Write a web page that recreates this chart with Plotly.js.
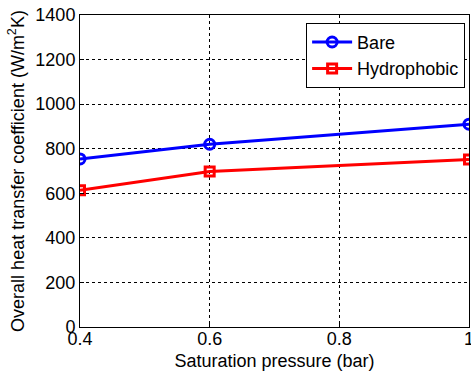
<!DOCTYPE html>
<html><head><meta charset="utf-8">
<script src="https://cdn.plot.ly/plotly-3.0.1.min.js"></script>
<style>html,body{margin:0;padding:0;background:#fff}#c{width:471px;height:374px}</style>
</head><body><div id="c"></div>
<script>
const pressure = [0.4, 0.6, 1.0];
const bare = [754, 820, 910];
const hydrophobic = [614, 698, 752];
const xTicks = [0.4, 0.6, 0.8, 1];
const xTickText = ['0.4', '0.6', '0.8', '1'];
const yTicks = [0, 200, 400, 600, 800, 1000, 1200, 1400];

const font = {family: 'Liberation Sans, Arial, sans-serif', size: 18, color: '#000'};
const traces = [
  {x: pressure, y: bare, name: 'Bare', mode: 'lines+markers',
   line: {color: '#0000ff', width: 3},
   marker: {symbol: 'circle-open', size: 10, color: '#0000ff', line: {width: 3}}},
  {x: pressure, y: hydrophobic, name: 'Hydrophobic', mode: 'lines+markers',
   line: {color: '#ff0000', width: 3},
   marker: {symbol: 'square-open', size: 9, color: '#ff0000', line: {width: 3}}}
];
const layout = {
  width: 471, height: 374,
  margin: {l: 80, r: 2, t: 15, b: 47},
  paper_bgcolor: '#fff', plot_bgcolor: '#fff',
  font: font,
  showlegend: true,
  legend: {x: 0.99, y: 0.975, xanchor: 'right', yanchor: 'top',
    bordercolor: '#000', borderwidth: 1, bgcolor: '#fff', font: font,
    tracegroupgap: 0, itemwidth: 40},
  xaxis: {range: [0.4, 1], tickvals: xTicks, ticktext: xTickText,
    showline: true, linecolor: '#000', linewidth: 1, mirror: true,
    showgrid: true, gridcolor: '#000', griddash: 'dot', gridwidth: 1,
    ticks: 'inside', ticklen: 4, tickcolor: '#000', zeroline: false,
    tickfont: font, ticklabeloverflow: 'allow', ticklabelstandoff: -5,
    title: {text: 'Saturation pressure (bar)', font: font, standoff: 6}},
  yaxis: {range: [0, 1400], tickvals: yTicks,
    showline: true, linecolor: '#000', linewidth: 1, mirror: true,
    showgrid: true, gridcolor: '#000', griddash: 'dot', gridwidth: 1,
    ticks: 'inside', ticklen: 4, tickcolor: '#000', zeroline: false,
    tickfont: font,
    title: {text: 'Overall heat transfer coefficient (W/m<sup>2</sup>K)', font: font, standoff: 6}}
};
Plotly.newPlot('c', traces, layout, {displayModeBar: false, staticPlot: true});
</script></body></html>
